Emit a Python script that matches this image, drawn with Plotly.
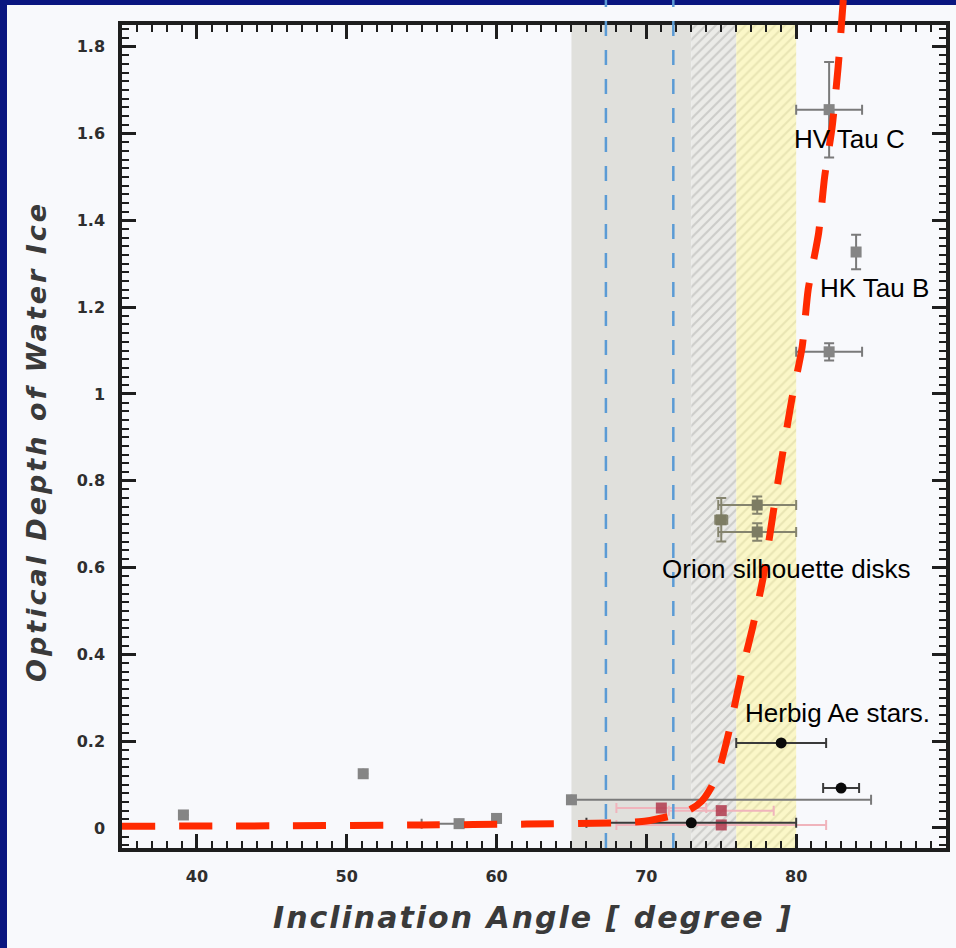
import plotly.graph_objects as go

# ---- data -------------------------------------------------------------
# grey: literature sources (edge-on disks, HV Tau C, HK Tau B, ...)
grey_x = [39.1, 51.1, 57.5, 60.0, 65.0, 82.2, 84.0, 82.2]
grey_y = [0.030, 0.125, 0.010, 0.022, 0.065, 1.655, 1.327, 1.097]
grey_ex_plus = [0, 0, 0, 0, 20.0, 2.2, 0, 2.2]
grey_ex_minus = [0, 0, 2.5, 0, 0, 2.2, 0, 2.2]
grey_ey = [0, 0, 0, 0, 0, 0.11, 0.04, 0.02]

# Orion silhouette disks
orion_x = [77.4, 77.4, 75.0]
orion_y = [0.744, 0.682, 0.710]
orion_ex = [2.6, 2.6, 0.4]
orion_ey = [0.02, 0.02, 0.05]

# Herbig Ae stars
black_x = [73.0, 79.0, 83.0]
black_y = [0.012, 0.196, 0.092]
black_ex = [7.0, 3.0, 1.2]

# red sources
red_x = [71.0, 75.0, 75.0]
red_y = [0.046, 0.040, 0.007]
red_ex = [3.0, 3.5, 7.0]

# model curve: ice optical depth versus inclination
curve_x = [35.0, 45.0, 55.0, 62.0, 68.0, 70.0, 71.9, 72.9, 73.7, 74.3, 74.9,
           75.5, 76.4, 77.1, 77.8, 78.7, 79.7, 80.4, 80.8, 81.5, 81.9, 82.4,
           82.8, 83.15]
curve_y = [0.004, 0.005, 0.007, 0.009, 0.012, 0.016, 0.030, 0.042, 0.062,
           0.092, 0.140, 0.220, 0.364, 0.463, 0.578, 0.779, 0.986, 1.108,
           1.240, 1.371, 1.500, 1.615, 1.753, 1.910]

# critical inclination angles
crit_angles = [67.3, 71.8]

# shaded inclination bands
grey_band = [65.0, 73.0]
hatch_grey_band = [73.0, 76.0]
hatch_yellow_band = [76.0, 80.0]

x_ticks = [40, 50, 60, 70, 80, 90]
y_ticks = [0, 0.2, 0.4, 0.6, 0.8, 1.0, 1.2, 1.4, 1.6, 1.8]

labels = ["HV Tau C", "HK Tau B", "Orion silhouette disks", "Herbig Ae stars."]
label_x = [79.73, 81.47, 70.93, 76.47]
label_y = [1.588, 1.243, 0.596, 0.264]

# ---- geometry ---------------------------------------------------------
W, H = 956, 948
XR = [35.0, 90.001]
YR = [-0.0461, 1.850]
px_l, px_r, px_t, px_b = 122, 946, 25, 848
sx = (px_r - px_l) / (XR[1] - XR[0])
sy = (px_b - px_t) / (YR[1] - YR[0])
# full-page axes with the same scale (for marks that leave the frame)
X2R = [XR[0] - px_l / sx, XR[1] + (W - px_r) / sx]
Y2R = [YR[0] - (H - px_b) / sy, YR[1] + px_t / sy]

fig = go.Figure()


def band(x0, x1, bg, fg):
    return go.Scatter(
        x=[x0, x1, x1, x0, x0], y=[YR[0], YR[0], YR[1], YR[1], YR[0]],
        mode="lines", line=dict(width=0), fill="toself", fillcolor=bg,
        fillpattern=dict(shape="/", bgcolor=bg, fgcolor=fg, size=7,
                         solidity=0.3),
        hoverinfo="skip", showlegend=False)


fig.add_trace(band(hatch_grey_band[0], hatch_grey_band[1], "#ebebe8", "#aeaeab"))
fig.add_trace(band(hatch_yellow_band[0], hatch_yellow_band[1], "#fbf7c8", "#d6d29e"))

err_common = dict(thickness=2, width=5)

fig.add_trace(go.Scatter(
    x=red_x, y=red_y, mode="markers",
    marker=dict(symbol="square", size=11, color="#b03a4e", opacity=0.85),
    error_x=dict(type="data", array=red_ex, color="#f0b4bc", **err_common),
    showlegend=False))

fig.add_trace(go.Scatter(
    x=grey_x, y=grey_y, mode="markers",
    marker=dict(symbol="square", size=11, color="#858585"),
    error_x=dict(type="data", symmetric=False, array=grey_ex_plus,
                 arrayminus=grey_ex_minus, color="#7a7a7a", **err_common),
    error_y=dict(type="data", array=grey_ey, color="#7a7a7a", **err_common),
    showlegend=False))

fig.add_trace(go.Scatter(
    x=orion_x, y=orion_y, mode="markers",
    marker=dict(symbol="square", size=11, color="#7d7c63"),
    error_x=dict(type="data", array=orion_ex, color="#85846e", **err_common),
    error_y=dict(type="data", array=orion_ey, color="#85846e", **err_common),
    showlegend=False))

fig.add_trace(go.Scatter(
    x=black_x, y=black_y, mode="markers",
    marker=dict(symbol="circle", size=11, color="#0a0a0a"),
    error_x=dict(type="data", array=black_ex, color="#3a3a3a", **err_common),
    showlegend=False))

# critical angles and model curve on the full-page axes
for xa in crit_angles:
    fig.add_trace(go.Scatter(
        x=[xa, xa], y=[YR[0], Y2R[1]], mode="lines",
        line=dict(color="#5b9bd5", width=2.5, dash="15px,14px"),
        xaxis="x2", yaxis="y2", hoverinfo="skip", showlegend=False))

fig.add_trace(go.Scatter(
    x=curve_x, y=curve_y, mode="lines",
    line=dict(color="#ff2a00", width=7, dash="33px,24px", shape="spline",
              smoothing=0.6),
    xaxis="x2", yaxis="y2", hoverinfo="skip", showlegend=False))

for t, lx, ly in zip(labels, label_x, label_y):
    fig.add_annotation(x=lx, y=ly, xref="x", yref="y", text=t, showarrow=False,
                       xanchor="left", yanchor="middle",
                       font=dict(family="Liberation Sans", size=26, color="#000000"))

title_font = dict(family="DejaVu Sans", color="#3a3a3a", weight="bold",
                  style="italic")
fig.add_annotation(
    x=37 / W, y=(H - 442) / H, xref="paper", yref="paper", textangle=-90,
    text='<span style="letter-spacing:3px">Optical Depth of Water Ice</span>',
    showarrow=False, xanchor="center", yanchor="middle",
    font=dict(size=27, **title_font))
fig.add_annotation(
    x=533 / W, y=(H - 917) / H, xref="paper", yref="paper",
    text='<span style="letter-spacing:2px">Inclination Angle [ degree ]</span>',
    showarrow=False, xanchor="center", yanchor="middle",
    font=dict(size=30, **title_font))

# page: navy slide with the white figure panel
fig.add_shape(type="rect", xref="paper", yref="paper",
              x0=7 / W, x1=1, y0=0, y1=(H - 5) / H,
              fillcolor="#f8f9fc", line=dict(width=0), layer="below")
fig.add_shape(type="rect", xref="x", yref="y domain",
              x0=grey_band[0], x1=grey_band[1], y0=0, y1=1,
              fillcolor="#e0e0dc", line=dict(width=0), layer="below")

tick_font = dict(family="DejaVu Sans", size=16, color="#2e2e2e", weight="bold")
axis_common = dict(
    showline=True, linewidth=3.5, linecolor="#1e1e1e", mirror="allticks",
    ticks="inside", ticklen=14, tickwidth=2.5, tickcolor="#1e1e1e",
    showgrid=False, zeroline=False, tickfont=tick_font)

fig.update_layout(
    width=W, height=H, margin=dict(l=0, r=0, t=0, b=0),
    paper_bgcolor="#0a1680", plot_bgcolor="rgba(0,0,0,0)",
    xaxis=dict(domain=[px_l / W, px_r / W], range=XR, tickmode="array",
               tickvals=x_ticks, ticklabelstandoff=11,
               minor=dict(tickmode="linear", tick0=0, dtick=1, ticks="inside",
                          ticklen=7, tickwidth=2, tickcolor="#1e1e1e"),
               **axis_common),
    yaxis=dict(domain=[(H - px_b) / H, (H - px_t) / H], range=YR,
               tickmode="array", tickvals=y_ticks, ticklabelstandoff=10,
               minor=dict(tickmode="linear", tick0=0, dtick=0.02, ticks="inside",
                          ticklen=7, tickwidth=2, tickcolor="#1e1e1e"),
               **axis_common),
    xaxis2=dict(domain=[0, 1], range=X2R, anchor="y2", visible=False),
    yaxis2=dict(domain=[0, 1], range=Y2R, anchor="x2", visible=False),
)

fig.write_html("out.html")
